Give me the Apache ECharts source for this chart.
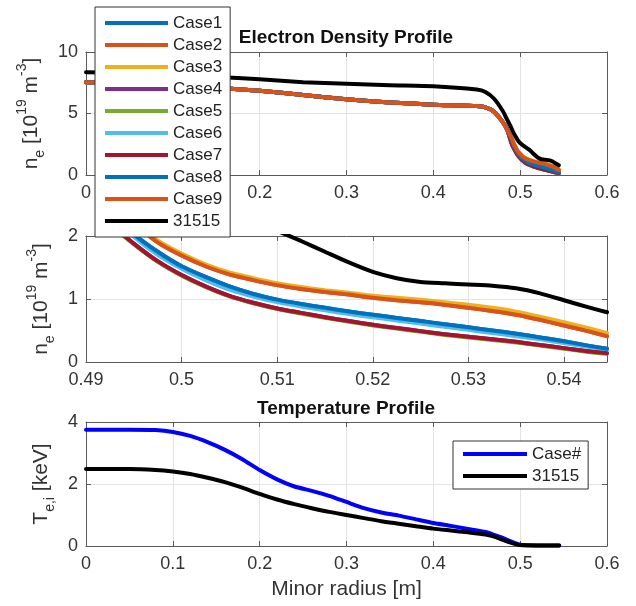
<!DOCTYPE html>
<html><head><meta charset="utf-8">
<script src="https://cdn.jsdelivr.net/npm/echarts@6/dist/echarts.min.js"></script>
<style>html,body{margin:0;padding:0;background:#fff}#c{width:636px;height:606px}</style>
</head><body><div id="c"></div>
<script>
// ---- data ----
const caseNames = ['Case1','Case2','Case3','Case4','Case5','Case6','Case7','Case8','Case9'];
const shotName = '31515';
const caseColors = ['#0072BD','#D95319','#EDB120','#7E2F8E','#77AC30','#4DBEEE','#A2142F','#0072BD','#D95319'];

// core radii (m) and densities (1e19 m^-3)
const rCore = [0, 0.05, 0.1, 0.15, 0.2, 0.25, 0.3, 0.35, 0.4, 0.45, 0.46, 0.47, 0.48, 0.485];
const neCoreCase = [7.55, 7.45, 7.3, 7.1, 6.85, 6.5, 6.15, 5.9, 5.72, 5.6, 5.5, 5.15, 4.3, 3.7];
const neCoreShot = [8.35, 8.3, 8.15, 7.97, 7.78, 7.55, 7.42, 7.3, 7.22, 6.95, 6.75, 6.2, 5.2, 4.5];

// edge radii and densities
const rEdge = [0.49, 0.4925, 0.495, 0.4975, 0.5, 0.5025, 0.505, 0.5075, 0.51, 0.5125, 0.515, 0.5175, 0.52, 0.5225, 0.525, 0.5275, 0.53, 0.5325, 0.535, 0.5375, 0.54, 0.5425, 0.5445];
const neEdgeBlue   = [2.85, 2.4, 2.03, 1.75, 1.52, 1.35, 1.2, 1.08, 0.99, 0.92, 0.86, 0.8, 0.75, 0.7, 0.65, 0.6, 0.55, 0.5, 0.45, 0.39, 0.33, 0.26, 0.21];
const neEdgeOrange = [3.0, 2.55, 2.2, 1.9, 1.69, 1.52, 1.39, 1.3, 1.22, 1.16, 1.11, 1.07, 1.02, 0.98, 0.95, 0.91, 0.86, 0.81, 0.75, 0.67, 0.58, 0.49, 0.41];
const neEdgeYellow = [3.05, 2.6, 2.24, 1.93, 1.72, 1.55, 1.42, 1.33, 1.25, 1.19, 1.14, 1.1, 1.05, 1.02, 0.99, 0.95, 0.91, 0.86, 0.8, 0.72, 0.63, 0.54, 0.46];
const neEdgeRed    = [2.6, 2.2, 1.88, 1.6, 1.38, 1.2, 1.05, 0.94, 0.85, 0.78, 0.71, 0.65, 0.59, 0.54, 0.49, 0.44, 0.4, 0.36, 0.32, 0.27, 0.22, 0.17, 0.14];
const neEdgeGreen  = [2.59, 2.19, 1.87, 1.59, 1.37, 1.19, 1.04, 0.93, 0.84, 0.77, 0.7, 0.64, 0.58, 0.53, 0.48, 0.43, 0.39, 0.35, 0.31, 0.26, 0.21, 0.16, 0.13];
const neEdgeLight  = [2.8, 2.35, 1.99, 1.7, 1.48, 1.3, 1.15, 1.04, 0.95, 0.88, 0.82, 0.76, 0.71, 0.66, 0.61, 0.56, 0.51, 0.46, 0.41, 0.36, 0.3, 0.24, 0.19];
const neEdgeShot   = [3.8, 3.4, 3.1, 2.8, 2.6, 2.45, 2.32, 2.2, 2.08, 1.92, 1.75, 1.58, 1.43, 1.33, 1.27, 1.25, 1.23, 1.21, 1.17, 1.09, 0.98, 0.87, 0.79];
const caseEdges = [neEdgeBlue, neEdgeOrange, neEdgeYellow, neEdgeRed, neEdgeGreen, neEdgeLight, neEdgeRed, neEdgeBlue, neEdgeOrange];

// temperature
const rT = [0, 0.05, 0.08, 0.1, 0.12, 0.14, 0.16, 0.18, 0.2, 0.22, 0.24, 0.26, 0.28, 0.3, 0.32, 0.34, 0.36, 0.38, 0.4, 0.42, 0.44, 0.46, 0.47, 0.48, 0.49, 0.5, 0.52, 0.545];
const tCase = [3.75, 3.75, 3.74, 3.68, 3.55, 3.35, 3.1, 2.8, 2.45, 2.15, 1.92, 1.78, 1.62, 1.42, 1.22, 1.08, 0.98, 0.86, 0.74, 0.65, 0.55, 0.45, 0.36, 0.26, 0.14, 0.04, 0.02, 0.02];
const tShot = [2.48, 2.48, 2.45, 2.4, 2.32, 2.2, 2.06, 1.88, 1.68, 1.5, 1.35, 1.22, 1.1, 1.0, 0.9, 0.8, 0.72, 0.64, 0.56, 0.5, 0.44, 0.37, 0.3, 0.2, 0.1, 0.03, 0.02, 0.02];

const xTicks1 = {min: 0, max: 0.6, interval: 0.1};
const xTicks2 = {min: 0.49, max: 0.5445, interval: 0.01};
const yTicks = [{min: 0, max: 10, interval: 5}, {min: 0, max: 2, interval: 1}, {min: 0, max: 4, interval: 2}];

// ---- chart ----
const FONT = "'Liberation Sans', Arial, Helvetica, sans-serif";
const AX = '#5a5a5a', GRIDC = '#e3e3e3', TXT = '#333';
const chart = echarts.init(document.getElementById('c'), null, {renderer: 'canvas'});

function pair(rs, vs) { return rs.map((r, i) => [r, vs[i]]); }

const rich = {
  m: {fontSize: 21, lineHeight: 32, fontFamily: FONT, color: TXT},
  sup: {fontSize: 14, lineHeight: 14, verticalAlign: 'top', fontFamily: FONT, color: TXT},
  sub: {fontSize: 14, lineHeight: 18, verticalAlign: 'bottom', fontFamily: FONT, color: TXT}
};
const neName = '{m|n}{sub|e}{m| [10}{sup|19}{m| m}{sup|-3}{m|]}';

function xAxisPair(gi, t, showMax, name) {
  const base = {gridIndex: gi, type: 'value', min: t.min, max: t.max, interval: t.interval,
    axisLine: {show: true, onZero: false, lineStyle: {color: AX, width: 1}},
    axisTick: {show: true, inside: true, length: 5, lineStyle: {color: AX}}};
  return [
    Object.assign({}, base, {position: 'bottom',
      axisLabel: {fontSize: 18, color: TXT, fontFamily: FONT, margin: 9, showMaxLabel: showMax},
      splitLine: {show: true, lineStyle: {color: GRIDC}},
      name: name || '', nameLocation: 'middle', nameGap: 33,
      nameTextStyle: {fontSize: 21, color: TXT, fontFamily: FONT}}),
    Object.assign({}, base, {position: 'top', axisLabel: {show: false}, splitLine: {show: false}})
  ];
}
function yAxisPair(gi, t, name, gap) {
  const base = {gridIndex: gi, type: 'value', min: t.min, max: t.max, interval: t.interval,
    axisLine: {show: true, onZero: false, lineStyle: {color: AX, width: 1}},
    axisTick: {show: true, inside: true, length: 5, lineStyle: {color: AX}}};
  return [
    Object.assign({}, base, {position: 'left',
      axisLabel: {fontSize: 18, color: TXT, fontFamily: FONT, margin: 8},
      splitLine: {show: true, lineStyle: {color: GRIDC}},
      name: name, nameLocation: 'middle', nameRotate: 90, nameGap: gap,
      nameTextStyle: {rich: rich}}),
    Object.assign({}, base, {position: 'right', axisLabel: {show: false}, splitLine: {show: false}})
  ];
}

const xAxes = [].concat(xAxisPair(0, xTicks1, true), xAxisPair(1, xTicks2, false), xAxisPair(2, xTicks1, true, 'Minor radius [m]'));
const yAxes = [].concat(
  yAxisPair(0, yTicks[0], neName, 34),
  yAxisPair(1, yTicks[1], neName, 28),
  yAxisPair(2, yTicks[2], '{m|T}{sub|e,i}{m| [keV]}', 29));

const series = [];
const LW = 4;
function lineSeries(name, color, gi, data) {
  return {name: name, type: 'line', xAxisIndex: gi * 2, yAxisIndex: gi * 2, data: data,
    showSymbol: false, symbol: 'none', smooth: 0.2, clip: true,
    color: color, lineStyle: {color: color, width: LW, cap: 'round', join: 'round'}, itemStyle: {color: color}};
}
[0, 1].forEach(gi => {
  caseNames.forEach((nm, i) => {
    series.push(lineSeries(nm, caseColors[i], gi, pair(rCore, neCoreCase).concat(pair(rEdge, caseEdges[i]))));
  });
  series.push(lineSeries(shotName, '#000000', gi, pair(rCore, neCoreShot).concat(pair(rEdge, neEdgeShot))));
});
series.push(lineSeries('Case#', '#0000FF', 2, pair(rT, tCase)));
series.push(lineSeries(shotName, '#000000', 2, pair(rT, tShot)));

const legendText = {fontSize: 17, lineHeight: 22, color: '#222', fontFamily: FONT};
chart.setOption({
  animation: false,
  backgroundColor: '#fff',
  grid: [
    {left: 86, top: 52, width: 521, height: 123},
    {left: 86, top: 236, width: 521, height: 126},
    {left: 86, top: 422, width: 521, height: 124}
  ],
  xAxis: xAxes,
  yAxis: yAxes,
  legend: [
    {data: caseNames.concat([shotName]), left: 95, top: 7, orient: 'vertical', icon: 'rect',
     itemWidth: 63, itemHeight: 4, itemGap: 0, padding: [5, 8, 5, 10], selectedMode: false,
     backgroundColor: '#fff', borderColor: '#333', borderWidth: 1, textStyle: legendText, z: 20},
    {data: ['Case#', shotName], left: 453, top: 441, orient: 'vertical', icon: 'rect',
     itemWidth: 64, itemHeight: 4, itemGap: 0, padding: [2, 7, 2, 10], selectedMode: false,
     backgroundColor: '#fff', borderColor: '#333', borderWidth: 1, textStyle: legendText, z: 20}
  ],
  graphic: [
    {type: 'text', x: 346, y: 37.5, z: 30, style: {text: 'Electron Density Profile', align: 'center', verticalAlign: 'middle',
      fontSize: 19, fontWeight: 'bold', fontFamily: FONT, fill: '#111'}},
    {type: 'text', x: 346, y: 409, z: 30, style: {text: 'Temperature Profile', align: 'center', verticalAlign: 'middle',
      fontSize: 19, fontWeight: 'bold', fontFamily: FONT, fill: '#111'}}
  ],
  series: series
});
</script></body></html>
